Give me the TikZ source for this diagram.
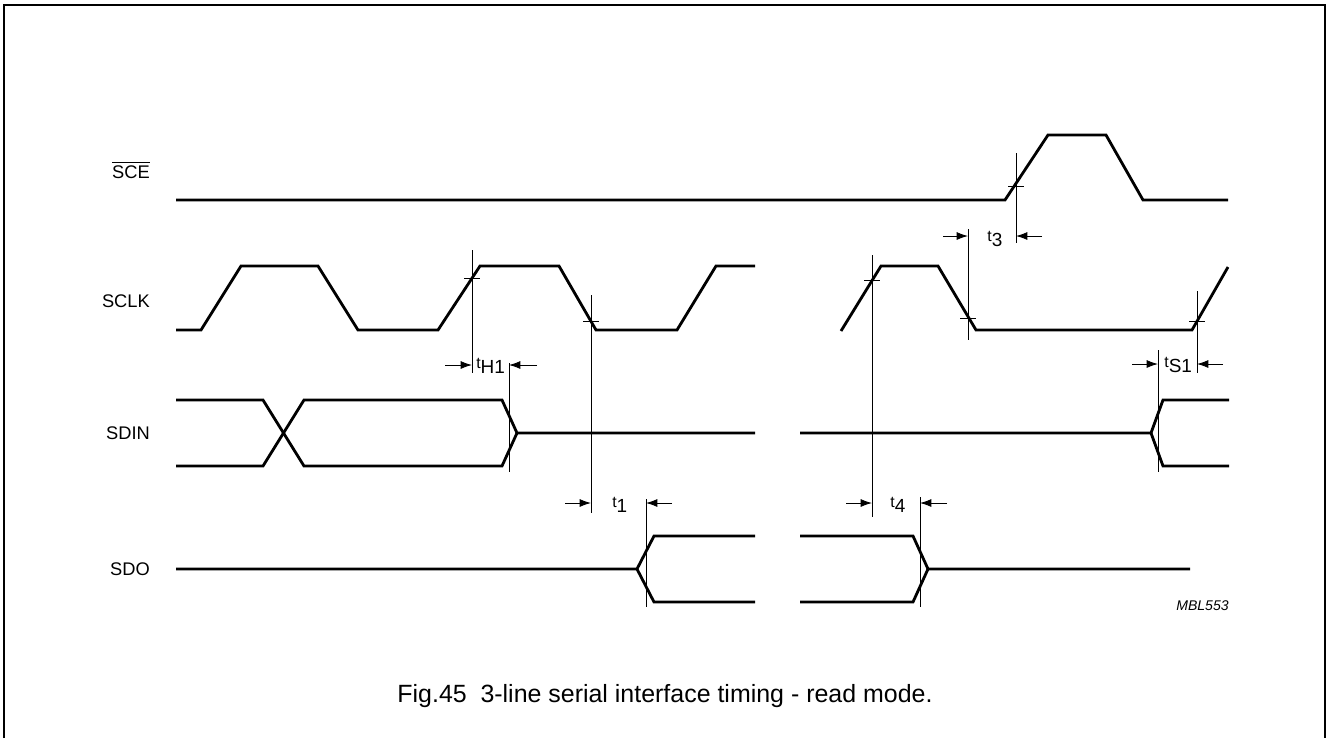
\documentclass[tikz,border=0pt]{standalone}
\usepackage{fontspec}
\setmainfont{Liberation Sans}
\usetikzlibrary{arrows.meta}

\newcommand{\tsub}[1]{{\fontsize{9}{10}\selectfont t}\raisebox{-3.4pt}{\fontsize{10.8}{12}\selectfont #1}}

\tikzset{
  wave/.style={line width=1.6pt},
  marker/.style={line width=0.5pt},
  dimarrow/.style={line width=0.5pt, -{Latex[length=6.5pt,width=4.6pt]}},
  signame/.style={anchor=base east, font=\fontsize{10.4}{12}\selectfont},
  tlabel/.style={anchor=base west, inner sep=0pt},
}

\begin{document}
\begin{tikzpicture}[x=0.02cm, y=-0.02cm]
\useasboundingbox (0,0) rectangle (1326,738);

% Frame
\draw[line width=1.1pt] (4,738) -- (4,5) -- (1325,5) -- (1325,738);

% Signal names
\node (sce) [signame] at (156,178) {$\overline{\hbox{SCE}}$};
\node (sclk) [signame] at (156,307) {SCLK};
\node (sdin) [signame] at (156,439) {SDIN};
\node (sdo) [signame] at (156,575) {SDO};

% SCE
\draw[wave] (176,200) -- (1005,200) -- (1048,135) -- (1106,135) -- (1143,200) -- (1228,200);

% SCLK
\draw[wave] (176,330) -- (201,330) -- (241,266) -- (318,266) -- (358,330) -- (438,330)
  -- (480,266) -- (559,266) -- (596,330) -- (677,330) -- (716,266) -- (755,266);
\draw[wave] (841,331) -- (881,266) -- (938,266) -- (976,330) -- (1192,330) -- (1228,267);

% SDIN
\draw[wave] (176,400) -- (263,400) -- (304,466) -- (502,466) -- (517,433);
\draw[wave] (176,466) -- (263,466) -- (304,400) -- (502,400) -- (517,433) -- (755,433);
\draw[wave] (800,433) -- (1151,433) -- (1163,400) -- (1229,400);
\draw[wave] (1151,433) -- (1163,466) -- (1229,466);

% SDO
\draw[wave] (176,569) -- (637,569) -- (654,536) -- (755,536);
\draw[wave] (637,569) -- (654,602) -- (755,602);
\draw[wave] (800,536) -- (913,536) -- (928,569) -- (1190,569);
\draw[wave] (800,602) -- (913,602) -- (928,569);

% Crossing points
\coordinate (h1) at (472,278);
\coordinate (c1) at (591,321);
\coordinate (c4) at (872,280);
\coordinate (c3) at (968,318);
\coordinate (ce) at (1016,186);
\coordinate (s1) at (1197,321);

\foreach \p in {h1,c1,c4,c3,ce,s1}
  \draw[marker] (\p) +(-8,0) -- +(8,0);

% Markers
\draw[marker] (472,250) -- (472,373);
\draw[marker] (509,363) -- (509,472);
\draw[marker] (591,295) -- (591,513);
\draw[marker] (646,499) -- (646,607);
\draw[marker] (872,255) -- (872,517);
\draw[marker] (920,497) -- (920,607);
\draw[marker] (968,229) -- (968,340);
\draw[marker] (1016,153) -- (1016,243);
\draw[marker] (1158,350) -- (1158,472);
\draw[marker] (1197,291) -- (1197,373);

% tH1
\coordinate (h1a) at (472,365);
\coordinate (h1b) at (509,365);
\draw[dimarrow] (h1a) ++(-27,0) -- (h1a);
\draw[dimarrow] (h1b) ++(28,0) -- (h1b);
\node (th1) [tlabel] at (476,368) {\tsub{H1}};

% t1
\coordinate (t1a) at (591,503);
\coordinate (t1b) at (646,503);
\draw[dimarrow] (t1a) ++(-26,0) -- (t1a);
\draw[dimarrow] (t1b) ++(26,0) -- (t1b);
\node (t1) [tlabel] at (612,507) {\tsub{1}};

% t4
\coordinate (t4a) at (872,503);
\coordinate (t4b) at (920,503);
\draw[dimarrow] (t4a) ++(-26,0) -- (t4a);
\draw[dimarrow] (t4b) ++(27,0) -- (t4b);
\node (t4) [tlabel] at (890,507) {\tsub{4}};

% t3
\coordinate (t3a) at (968,236);
\coordinate (t3b) at (1016,236);
\draw[dimarrow] (t3a) ++(-25,0) -- (t3a);
\draw[dimarrow] (t3b) ++(26,0) -- (t3b);
\node (t3) [tlabel] at (987,241) {\tsub{3}};

% tS1
\coordinate (s1a) at (1158,364);
\coordinate (s1b) at (1197,364);
\draw[dimarrow] (s1a) ++(-26,0) -- (s1a);
\draw[dimarrow] (s1b) ++(26,0) -- (s1b);
\node (ts1) [tlabel] at (1164,367) {\tsub{S1}};

% Labels
\node (code) [anchor=base east, inner sep=0pt, font=\fontsize{8}{10}\selectfont\itshape] at (1229,610) {MBL553};
\node (caption) [anchor=base, font=\fontsize{14.2}{16}\selectfont] at (665,702)
  {Fig.45\hspace{0.55em}3-line serial interface timing - read mode.};

\end{tikzpicture}
\end{document}
